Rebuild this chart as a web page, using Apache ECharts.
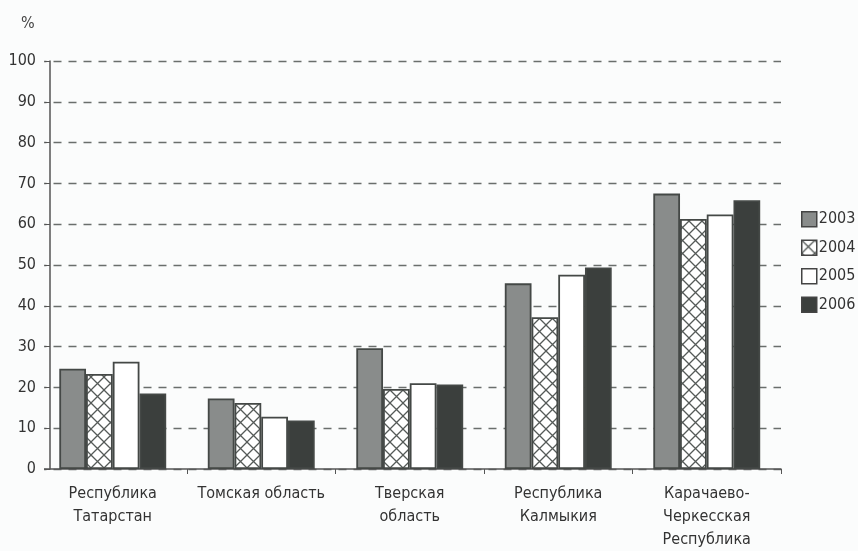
<!DOCTYPE html>
<html><head><meta charset="utf-8">
<script src="https://cdn.jsdelivr.net/npm/echarts@6/dist/echarts.min.js"></script>
<style>html,body{margin:0;padding:0;background:#fbfcfc}#c{width:858px;height:551px}</style>
</head><body><div id="c"></div>
<script>
const categories = ['Республика\nТатарстан','Томская область','Тверская\nобласть','Республика\nКалмыкия','Карачаево-\nЧеркесская\nРеспублика'];
const years = ['2003','2004','2005','2006'];
const v2003 = [24.6, 17.3, 29.6, 45.5, 67.5];
const v2004 = [23.3, 16.2, 19.6, 37.2, 61.3];
const v2005 = [26.3, 12.8, 21.0, 47.6, 62.4];
const v2006 = [18.5, 11.9, 20.7, 49.4, 65.9];
const yTicks = [0,10,20,30,40,50,60,70,80,90,100];

const FONT = '"DejaVu Sans Condensed","Liberation Sans Narrow","Liberation Sans",sans-serif';
const BG = '#fbfcfc';
function hatch(){
  const s = 13, c = document.createElement('canvas');
  c.width = s; c.height = s;
  const g = c.getContext('2d');
  g.fillStyle = '#ffffff'; g.fillRect(0,0,s,s);
  g.strokeStyle = '#555a58'; g.lineWidth = 1.3;
  g.beginPath();
  g.moveTo(0,0); g.lineTo(s,s);
  g.moveTo(s,0); g.lineTo(0,s);
  g.stroke();
  return c;
}
const fills = ['#898c8b', {image: hatch(), repeat: 'repeat'}, '#ffffff', '#3b3f3d'];
const data = [v2003, v2004, v2005, v2006];
const chart = echarts.init(document.getElementById('c'));
chart.setOption({
  backgroundColor: BG,
  animation: false,
  textStyle: {fontFamily: FONT},
  grid: {left: 38.5, right: 77, top: 61, bottom: 79},
  legend: {
    orient: 'vertical', left: 796, top: 206, itemWidth: 15, itemHeight: 15, itemGap: 12, icon: 'rect',
    textStyle: {fontSize: 16, color: '#333', fontFamily: FONT, padding: [0,0,0,-3]},
    data: years.map((y,i)=>({name: y, itemStyle: {color: fills[i], borderColor: '#444', borderWidth: 1.5}}))
  },
  graphic: [
    {type: 'rect', z: 100, shape: {x: 36, y: 50, width: 8, height: 426}, style: {fill: BG}},
    {type: 'text', left: 21, top: 16, style: {text: '%', fontSize: 16, fill: '#444', fontFamily: FONT}}
  ],
  xAxis: {
    type: 'category', data: categories,
    axisLine: {lineStyle: {color: '#555', width: 1.5}},
    axisTick: {show: true, length: 5, lineStyle: {color: '#555'}},
    axisLabel: {fontSize: 16, color: '#333', lineHeight: 23, margin: 13, interval: 0, fontFamily: FONT}
  },
  yAxis: {
    type: 'value', min: 0, max: 100, interval: 10, offset: -11.5,
    axisLine: {show: true, lineStyle: {color: '#555', width: 1.5}},
    axisTick: {show: true, length: 5, lineStyle: {color: '#555'}},
    axisLabel: {fontSize: 16, color: '#333', margin: 14, fontFamily: FONT,
      formatter: v => yTicks.includes(v) ? String(v) : ''},
    splitLine: {show: true, lineStyle: {color: '#6a6e6c', type: [8,7], width: 1.3}}
  },
  series: years.map((y,i)=>({
    name: y, type: 'bar', data: data[i], barGap: '0%', barCategoryGap: '28%',
    itemStyle: {color: fills[i], borderColor: '#444846', borderWidth: 1.8}
  }))
});
</script></body></html>
